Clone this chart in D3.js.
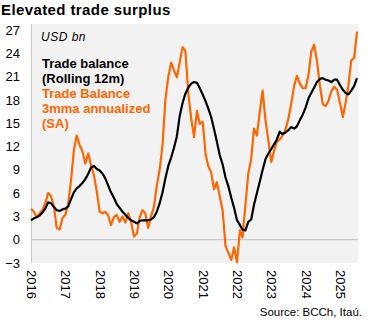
<!DOCTYPE html>
<html>
<head>
<meta charset="utf-8">
<script src="https://cdn.jsdelivr.net/npm/d3@7"></script>
<style>
  body { margin: 0; background: #fff; }
  svg text { font-family: 'Liberation Sans', Arial, sans-serif; }
</style>
</head>
<body>
<div id="chart"></div>
<script>
// Monthly observations, Jan 2016 onwards (USD bn)
const startMonth = new Date(2016, 0, 1);

// Trade balance, rolling 12 months
const rolling12m = [
  2.5, 2.75, 2.9, 3.1, 3.5, 4.0, 4.8, 4.7, 4.2, 3.8, 3.7, 3.9,
  4.0, 4.3, 5.2, 6.1, 6.6, 6.9, 7.3, 7.8, 8.5, 9.3, 9.5, 9.1,
  8.9, 8.5, 7.9, 7.0, 6.1, 5.4, 4.6, 4.1, 3.6, 3.2, 2.8, 2.5,
  2.3, 2.1, 2.4, 2.5, 2.5, 2.5, 2.6, 2.9, 3.6, 4.7, 6.1, 7.9,
  9.5, 10.6, 11.8, 13.3, 15.9, 17.6, 18.8, 19.6, 20.1, 20.3, 20.2, 19.5,
  18.7, 17.8, 16.9, 15.8, 14.3, 12.6, 10.9, 9.7, 8.0, 6.9, 5.4, 4.1,
  2.5, 1.9, 1.3, 1.2, 2.3, 2.6, 4.5, 6.0, 7.5, 9.0, 10.4, 11.1,
  11.7, 12.3, 12.9, 13.9, 13.6, 13.8, 14.1, 14.5, 14.3, 14.6, 15.4, 16.1,
  17.0, 18.2, 18.9, 19.6, 20.3, 20.7, 20.8, 20.6, 20.5, 20.3, 20.6, 20.6,
  19.9, 19.3, 18.9, 18.7, 19.2, 19.8, 20.8
];

// Trade balance, 3-month moving average annualized (SA)
const annualized3mma = [
  4.0, 3.6, 2.9, 3.4, 3.8, 4.7, 6.0, 5.6, 4.3, 1.5, 1.3, 2.8,
  3.2, 4.7, 7.5, 11.5, 13.4, 12.2, 11.4, 9.8, 11.1, 9.6, 8.3, 6.2,
  3.6, 3.4, 3.6, 3.1, 1.9, 2.9, 3.2, 2.3, 3.0, 2.2, 3.4, 2.3,
  0.4, 0.8, 2.8, 3.8, 3.4, 1.5, 3.0, 4.2, 7.0, 9.0, 12.2, 18.0,
  21.0, 22.8, 21.8, 20.9, 22.8, 24.8, 24.3, 18.8, 15.6, 13.2, 16.6, 14.9,
  15.2, 11.0, 9.5, 8.7, 6.5, 7.4, 5.6, 3.8, -0.8, -1.7, -2.6, -1.0,
  -2.9, 1.2, 0.3, 4.5, 8.5, 10.4, 14.3, 13.4, 16.5, 19.2, 15.3, 12.8,
  10.0, 11.5, 12.6, 12.9, 13.4, 14.2, 15.5, 17.5, 19.8, 21.1, 20.1, 19.5,
  19.5, 21.2, 24.2, 25.1, 23.0, 19.9, 17.5, 17.2, 17.9, 19.1, 19.7, 19.3,
  17.6, 15.8, 17.6, 19.9, 23.1, 23.4, 26.8
];

const yTicks = [-3, 0, 3, 6, 9, 12, 15, 18, 21, 24, 27];
const legendLines = [
  { text: 'Trade balance', color: '#000' },
  { text: '(Rolling 12m)', color: '#000' },
  { text: 'Trade Balance', color: '#ff6600' },
  { text: '3mma annualized', color: '#ff6600' },
  { text: '(SA)', color: '#ff6600' }
];

const width = 374, height = 325;
const plot = { left: 31, right: 358, top: 24, bottom: 263 };

const months = rolling12m.map((_, i) => d3.timeMonth.offset(startMonth, i));

const svg = d3.select('#chart').append('svg')
  .attr('width', width)
  .attr('height', height);

const x = d3.scaleTime()
  .domain([months[0], months[months.length - 1]])
  .range([plot.left, 357]);

const y = d3.scaleLinear()
  .domain([-3, 27])
  .range([plot.bottom, 30]);

// Plot background
svg.append('rect')
  .attr('x', plot.left).attr('y', plot.top)
  .attr('width', plot.right - plot.left)
  .attr('height', plot.bottom - plot.top)
  .attr('fill', '#f2f2f2');

// Zero line
svg.append('line')
  .attr('x1', plot.left).attr('x2', plot.right)
  .attr('y1', y(0)).attr('y2', y(0))
  .attr('stroke', '#bfbfbf')
  .attr('stroke-width', 1);

// Y axis
const yAxis = svg.append('g')
  .attr('transform', `translate(${plot.left},0)`)
  .call(d3.axisLeft(y).tickValues(yTicks).tickSize(0).tickPadding(11))
  .call(g => g.select('.domain')
    .attr('d', `M0.5,${plot.top}V${plot.bottom}`)
    .attr('stroke', '#c8c8c8'));

yAxis.selectAll('.tick text')
  .attr('font-size', 13)
  .attr('fill', '#000');

// X axis, year labels rotated to read downwards
const xAxis = svg.append('g')
  .attr('transform', `translate(0,${plot.bottom})`)
  .call(d3.axisBottom(x).ticks(d3.timeYear.every(1)).tickFormat(d3.timeFormat('%Y')).tickSize(0))
  .call(g => g.select('.domain').remove());

xAxis.selectAll('.tick text')
  .attr('font-size', 13)
  .attr('fill', '#000')
  .attr('text-anchor', 'start')
  .attr('transform', 'rotate(90)')
  .attr('x', 7)
  .attr('y', 0)
  .attr('dy', '0.35em');

// Series lines
const line = d3.line()
  .x((d, i) => x(months[i]))
  .y(d => y(d));

svg.append('path')
  .datum(annualized3mma)
  .attr('fill', 'none')
  .attr('stroke', '#ff6600')
  .attr('stroke-width', 2.2)
  .attr('stroke-linejoin', 'round')
  .attr('d', line);

svg.append('path')
  .datum(rolling12m)
  .attr('fill', 'none')
  .attr('stroke', '#000')
  .attr('stroke-width', 2.2)
  .attr('stroke-linejoin', 'round')
  .attr('d', line);

// Title
svg.append('text')
  .attr('x', 1).attr('y', 15)
  .attr('font-size', 15)
  .attr('font-weight', 'bold')
  .attr('letter-spacing', 0.4)
  .text('Elevated trade surplus');

// Unit label
svg.append('text')
  .attr('x', 41).attr('y', 41)
  .attr('font-size', 12)
  .attr('font-style', 'italic')
  .attr('letter-spacing', 0.5)
  .text('USD bn');

// Legend
svg.append('g').selectAll('text')
  .data(legendLines)
  .join('text')
  .attr('x', 42)
  .attr('y', (d, i) => 68 + i * 15)
  .attr('font-size', 13)
  .attr('font-weight', 'bold')
  .attr('fill', d => d.color)
  .text(d => d.text);

// Source
svg.append('text')
  .attr('x', 362).attr('y', 316)
  .attr('text-anchor', 'end')
  .attr('font-size', 11.5)
  .text('Source: BCCh, Itaú.');
</script>
</body>
</html>
